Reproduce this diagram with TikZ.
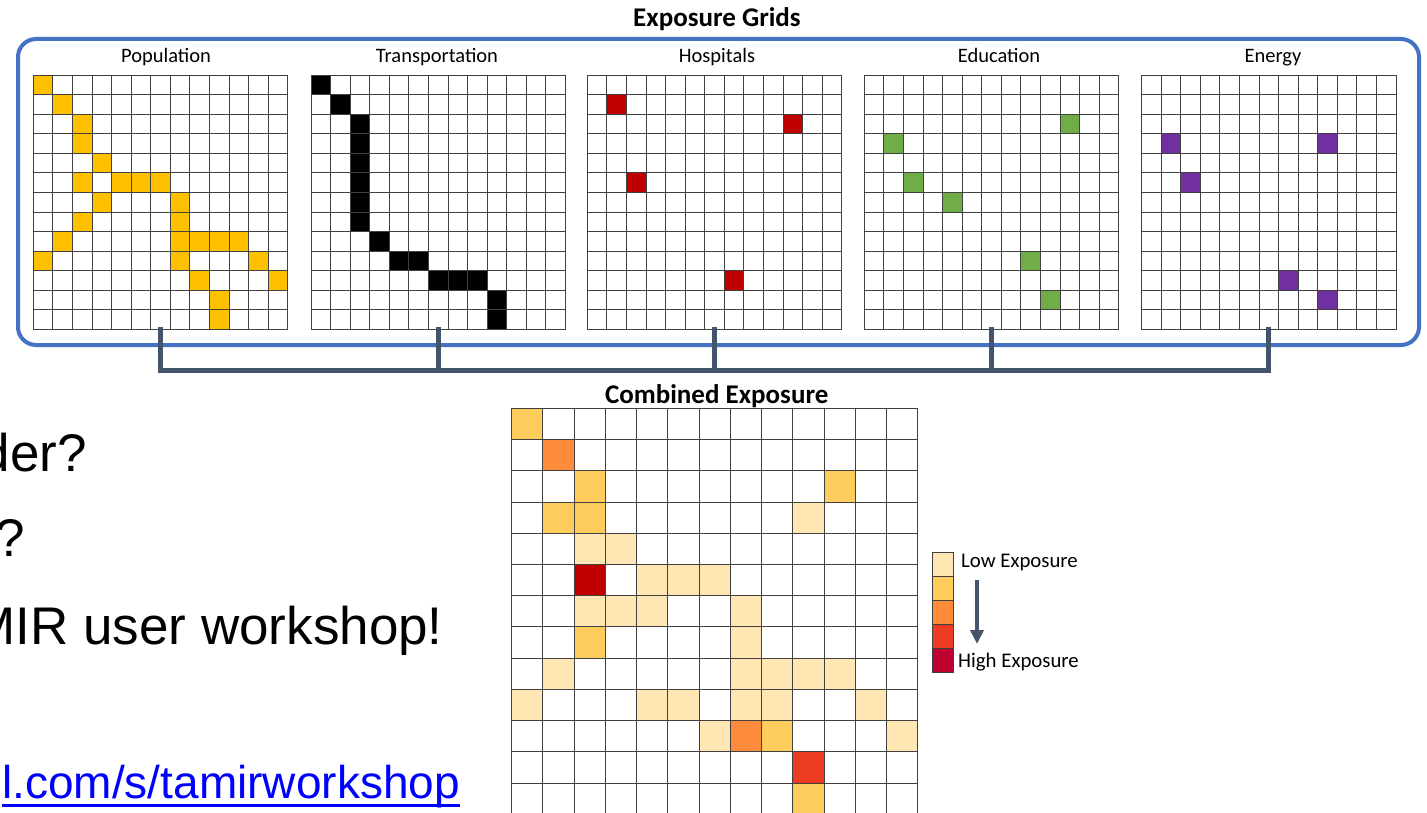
\documentclass[tikz,border=0pt]{standalone}
\usepackage{fontspec}
\setmainfont{Carlito}
\newfontfamily\arialf{Liberation Sans}
\usetikzlibrary{arrows.meta}
\definecolor{popc}{HTML}{FFC000}
\definecolor{hospc}{HTML}{C00000}
\definecolor{educ}{HTML}{70AD47}
\definecolor{enec}{HTML}{7030A0}
\definecolor{gridc}{HTML}{404040}
\definecolor{boxblue}{HTML}{4472C4}
\definecolor{slate}{HTML}{44546A}
\definecolor{lvA}{HTML}{FFE6B3}
\definecolor{lvB}{HTML}{FFCC5E}
\definecolor{lvC}{HTML}{FF8B3D}
\definecolor{lvD}{HTML}{EE3B24}
\definecolor{lvE}{HTML}{C0002E}
\definecolor{lvF}{HTML}{C00000}
\definecolor{linkblue}{HTML}{0000FF}
\newcommand{\mycells}[4]{\begin{scope}[shift={(#1.north west)}]\foreach \r/\k in {#4}{\fill[#3] (\k*#2,\r*#2) rectangle ++(#2,#2);}\end{scope}}
\newcommand{\mylines}[2]{\begin{scope}[shift={(#1.north west)}]\foreach \i in {0,...,13}{\draw[gridline] (\i*#2,0) -- (\i*#2,13*#2); \draw[gridline] (0,\i*#2) -- (13*#2,\i*#2);}\end{scope}}
\begin{document}
\begin{tikzpicture}[x=1pt,y=-1pt,
  gridnode/.style={minimum width=254.5pt,minimum height=254.5pt,inner sep=0pt,outer sep=0pt,anchor=north west},
  bignode/.style={minimum width=406pt,minimum height=406pt,inner sep=0pt,outer sep=0pt,anchor=north west},
  gridline/.style={draw=gridc,line width=0.9pt,line cap=rect},
  lab/.style={font=\fontsize{20.5}{24}\selectfont,anchor=base,inner sep=0pt},
  ttl/.style={font=\fontsize{27}{32}\selectfont\bfseries,anchor=base,inner sep=0pt},
  bluebox/.style={draw=boxblue,line width=4pt,rounded corners=18pt},
  bracket/.style={draw=slate,line width=5pt,line join=miter,line cap=rect},
  legbox/.style={draw=gridc,line width=0.8pt},
  legtext/.style={font=\fontsize{20.8}{24}\selectfont,anchor=west,inner sep=0pt},
  bigtext/.style={font=\arialf\fontsize{53}{60}\selectfont,anchor=base east,inner sep=0pt},
  linktext/.style={font=\arialf\fontsize{46}{52}\selectfont,anchor=base east,inner sep=0pt,text=linkblue},
  legarrow/.style={draw=slate,line width=4pt,-{Triangle[width=13pt,length=14pt]}}
]
\useasboundingbox (0,0) rectangle (1427,813);
% titles
\node[ttl] (title) at (717,27) {Exposure Grids};
% blue frame
\draw[bluebox] (18,39) rectangle (1419,345);
% grid nodes
\node[gridnode] (g1) at (33.3,75) {};
\node[gridnode] (g2) at (311,75) {};
\node[gridnode] (g3) at (587.3,75) {};
\node[gridnode] (g4) at (864.3,75) {};
\node[gridnode] (g5) at (1141.5,75) {};
% labels
\node[lab] (l1) at (166,63) {Population};
\node[lab] (l2) at (437,63) {Transportation};
\node[lab] (l3) at (717,63) {Hospitals};
\node[lab] (l4) at (999,63) {Education};
\node[lab] (l5) at (1273,63) {Energy};
% cells
\def\cs{19.577}
\mycells{g1}{\cs}{popc}{0/0,1/1,2/2,3/2,4/3,5/2,5/4,5/5,5/6,6/3,6/7,7/2,7/7,8/1,8/7,8/8,8/9,8/10,9/0,9/7,9/11,10/8,10/12,11/9,12/9}
\mycells{g2}{\cs}{black}{0/0,1/1,2/2,3/2,4/2,5/2,6/2,7/2,8/3,9/4,9/5,10/6,10/7,10/8,11/9,12/9}
\mycells{g3}{\cs}{hospc}{1/1,2/10,5/2,10/7}
\mycells{g4}{\cs}{educ}{2/10,3/1,5/2,6/4,9/8,11/9}
\mycells{g5}{\cs}{enec}{3/1,3/9,5/2,10/7,11/9}
\mylines{g1}{\cs}
\mylines{g2}{\cs}
\mylines{g3}{\cs}
\mylines{g4}{\cs}
\mylines{g5}{\cs}
% bracket connector
\coordinate (bar) at (0,370);
\draw[bracket] (g1.south) -- (g1.south |- bar) -- (g5.south |- bar) -- (g5.south);
\draw[bracket] (g2.south) -- (g2.south |- bar);
\draw[bracket] (g3.south) -- (g3.south |- bar);
\draw[bracket] (g4.south) -- (g4.south |- bar);
% combined
\node[ttl] (ctitle) at (716.7,403) {Combined Exposure};
\node[bignode] (gc) at (511.7,408.3) {};
\def\cb{31.23}
\mycells{gc}{\cb}{lvA}{3/9,4/2,4/3,5/4,5/5,5/6,6/2,6/3,6/4,6/7,7/7,8/1,8/7,8/8,8/9,8/10,9/0,9/4,9/5,9/7,9/8,9/11,10/6,10/12}
\mycells{gc}{\cb}{lvB}{0/0,2/2,2/10,3/1,3/2,7/2,10/8,12/9}
\mycells{gc}{\cb}{lvC}{1/1,10/7}
\mycells{gc}{\cb}{lvD}{11/9}
\mycells{gc}{\cb}{lvF}{5/2}
\mylines{gc}{\cb}
% legend
\foreach \c [count=\i from 0] in {lvA,lvB,lvC,lvD,lvE}
  \draw[legbox,fill=\c] (932,552+\i*24) rectangle ++(21,24);
\node[legtext] (low) at (961,562) {Low Exposure};
\node[legtext] (high) at (958,662) {High Exposure};
\coordinate (arrA) at (977,580);
\coordinate (arrB) at (977,644);
\draw[legarrow] (arrA) -- (arrB);
% left text
\node[bigtext] (t1) at (87,471) {der?};
\node[bigtext] (t2) at (25,556) {?};
\node[bigtext] (t3) at (443,644) {MIR user workshop!};
\node[linktext] (t4) at (460,798) {l.com/s/tamirworkshop};
\draw[draw=linkblue,line width=3pt] ([yshift=-7pt]t4.base west) -- ([yshift=-7pt]t4.base east);
\end{tikzpicture}
\end{document}
